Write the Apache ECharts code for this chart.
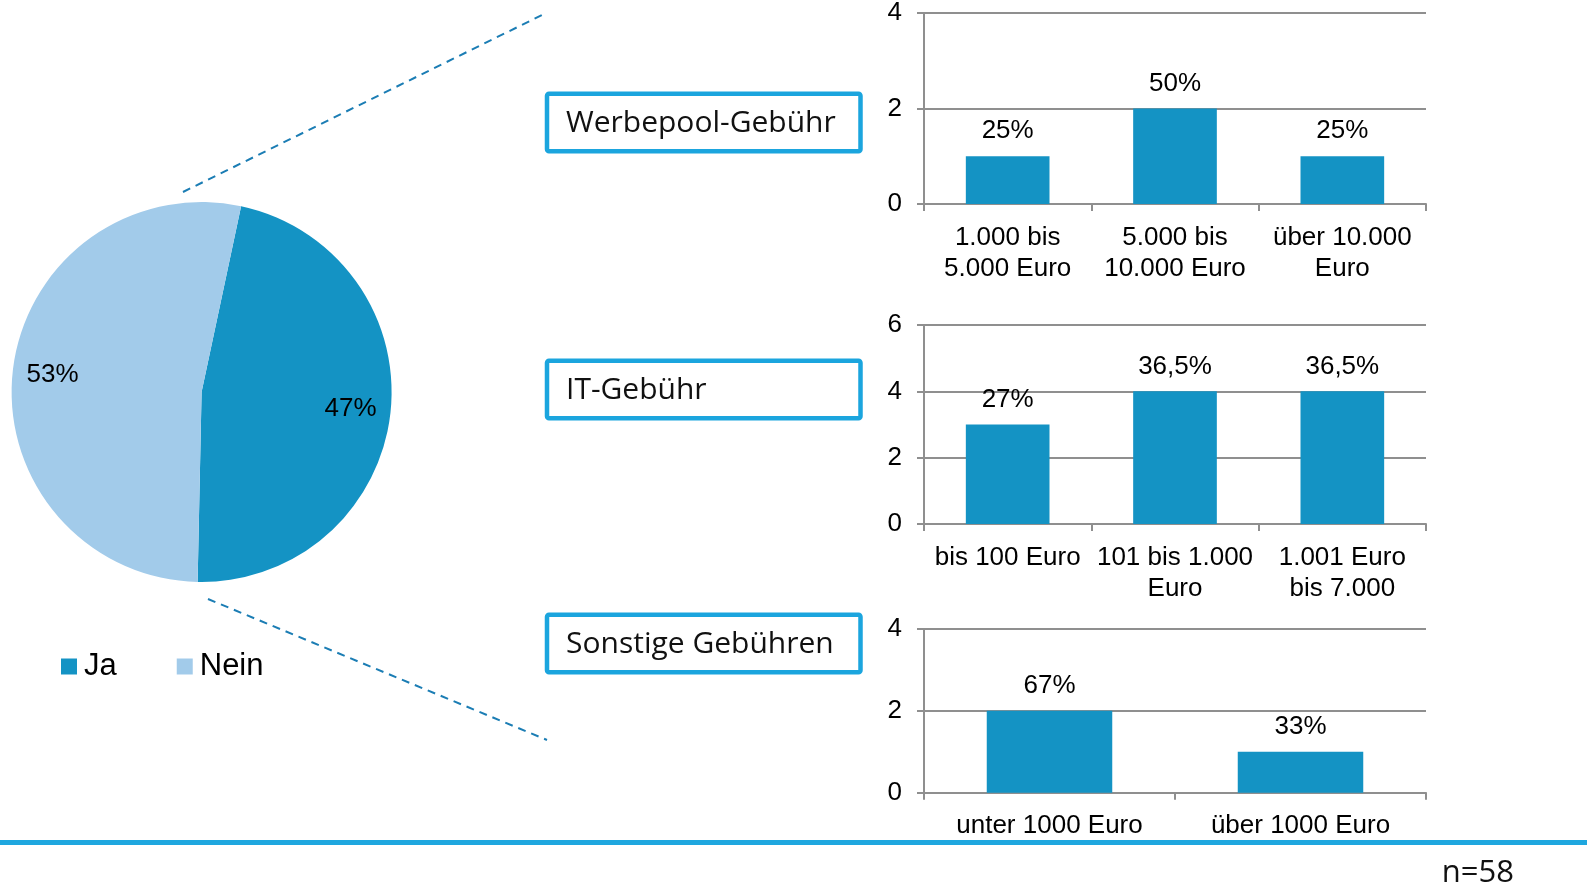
<!DOCTYPE html>
<html>
<head>
<meta charset="utf-8">
<script src="https://cdn.jsdelivr.net/npm/echarts@6/dist/echarts.min.js"></script>
<style>
  html, body { margin: 0; padding: 0; background: #fff; }
  #chart { width: 1587px; height: 896px; }
</style>
</head>
<body>
<div id="chart"></div>
<script>
// Pie: share of respondents paying extra fees
const pieNames = ['Ja', 'Nein'];
const pieShares = [47, 53];

// Werbepool-Gebühr
const werbeCategories = ['1.000 bis\n5.000 Euro', '5.000 bis\n10.000 Euro', 'über 10.000\nEuro'];
const werbeCounts = [1, 2, 1];
const werbeShares = ['25%', '50%', '25%'];

// IT-Gebühr
const itCategories = ['bis 100 Euro', '101 bis 1.000\nEuro', '1.001 Euro\nbis 7.000'];
const itCounts = [3, 4, 4];
const itShares = ['27%', '36,5%', '36,5%'];

// Sonstige Gebühren
const sonstCategories = ['unter 1000 Euro', 'über 1000 Euro'];
const sonstCounts = [2, 1];
const sonstShares = ['67%', '33%'];

// Count axes
const werbeAxisMax = 4;
const itAxisMax = 6;
const sonstAxisMax = 4;
const countStep = 2;

const panelTitles = ['Werbepool-Gebühr', 'IT-Gebühr', 'Sonstige Gebühren'];
const sampleNote = 'n=58';

const BAR = '#1493c4';
const LIGHT = '#a2cbea';
const FRAME = '#1ba5de';
const GRID = '#8f8f8f';
const SANS = '"Liberation Sans", Arial, Helvetica, sans-serif';
const UI = '"Open Sans", "Noto Sans", sans-serif';

const chart = echarts.init(document.getElementById('chart'));

const grids = [
  { left: 924, right: 161, top: 11.7, height: 192.3 },
  { left: 924, right: 161, top: 325, height: 199 },
  { left: 924, right: 161, top: 629, height: 163.7 }
];

function xAxisFor(i, cats) {
  return {
    type: 'category', gridIndex: i, data: cats,
    axisLine: { lineStyle: { color: GRID, width: 2 } },
    axisTick: { show: true, length: 7, lineStyle: { color: GRID, width: 2 } },
    axisLabel: { interval: 0, margin: 18, color: '#000', fontSize: 26, lineHeight: 31, fontFamily: SANS }
  };
}
function yAxisFor(i, max) {
  return {
    type: 'value', gridIndex: i, min: 0, max: max, interval: countStep,
    axisLine: { show: true, lineStyle: { color: GRID, width: 2 } },
    axisTick: { show: true, length: 7, lineStyle: { color: GRID, width: 2 } },
    splitLine: { show: true, lineStyle: { color: GRID, width: 2 } },
    axisLabel: { margin: 22, color: '#000', fontSize: 26, fontFamily: SANS }
  };
}
function barFor(i, counts, shares) {
  return {
    type: 'bar', xAxisIndex: i, yAxisIndex: i, data: counts,
    barWidth: '50%', silent: true,
    itemStyle: { color: BAR },
    label: {
      show: true, position: 'top', distance: 12,
      color: '#000', fontSize: 26, lineHeight: 26, fontFamily: SANS,
      formatter: p => shares[p.dataIndex]
    }
  };
}

const pieData = pieNames.map((n, k) => ({ name: n, value: pieShares[k], itemStyle: { color: k === 0 ? BAR : LIGHT } }));

const graphics = [];
// Connector lines from the pie to the fee panels
graphics.push({ type: 'line', shape: { x1: 183, y1: 192, x2: 544, y2: 14 }, style: { stroke: '#1b7db4', lineWidth: 2, lineDash: [8, 6] }, silent: true });
graphics.push({ type: 'line', shape: { x1: 208, y1: 599, x2: 547, y2: 740 }, style: { stroke: '#1b7db4', lineWidth: 2, lineDash: [8, 6] }, silent: true });
// Title frames
const frameTops = [91.5, 358.5, 612.5];
panelTitles.forEach((t, k) => {
  graphics.push({ type: 'rect', shape: { x: 547, y: frameTops[k] + 2.25, width: 313.5, height: 57.5, r: 2 },
    style: { fill: '#fff', stroke: FRAME, lineWidth: 4.5 }, silent: true });
  graphics.push({ type: 'text', x: 566, y: frameTops[k] + 32,
    style: { text: t, fill: '#111', font: '30px ' + UI, textVerticalAlign: 'middle', textAlign: 'left' }, silent: true });
});
// Footer rule and sample size
graphics.push({ type: 'rect', shape: { x: 0, y: 840, width: 1587, height: 5 }, style: { fill: '#1fa7df' }, silent: true });
graphics.push({ type: 'text', x: 1514, y: 873,
  style: { text: sampleNote, fill: '#111', font: '31px ' + UI, textAlign: 'right', textVerticalAlign: 'middle' }, silent: true });

chart.setOption({
  animation: false,
  backgroundColor: '#fff',
  legend: {
    data: pieNames, left: 61, top: 651, padding: 0, itemGap: 60,
    itemWidth: 16, itemHeight: 16, icon: 'rect', selectedMode: false,
    textStyle: { fontSize: 31, color: '#000', fontFamily: SANS, padding: [0, 0, 0, 2] }
  },
  grid: grids,
  xAxis: [xAxisFor(0, werbeCategories), xAxisFor(1, itCategories), xAxisFor(2, sonstCategories)],
  yAxis: [yAxisFor(0, werbeAxisMax), yAxisFor(1, itAxisMax), yAxisFor(2, sonstAxisMax)],
  series: [
    {
      type: 'pie', name: 'Anteil', center: [201.6, 392], radius: 190,
      startAngle: 78, clockwise: true, silent: true,
      label: { show: false }, labelLine: { show: false },
      emphasis: { disabled: true },
      data: pieData
    },
    {
      // label ring: places the share labels at roughly three quarters of the radius
      type: 'pie', name: 'Beschriftung', center: [201.6, 392], radius: [104, 190],
      startAngle: 78, clockwise: true, silent: true, legendHoverLink: false,
      itemStyle: { color: 'rgba(0,0,0,0)' },
      emphasis: { disabled: true },
      label: { show: true, position: 'inside', formatter: '{c}%', color: '#000', fontSize: 26, fontFamily: SANS },
      labelLine: { show: false },
      data: pieNames.map((n, k) => ({ name: n + ' ', value: pieShares[k] }))
    },
    barFor(0, werbeCounts, werbeShares),
    barFor(1, itCounts, itShares),
    barFor(2, sonstCounts, sonstShares)
  ],
  graphic: graphics
});
</script>
</body>
</html>
